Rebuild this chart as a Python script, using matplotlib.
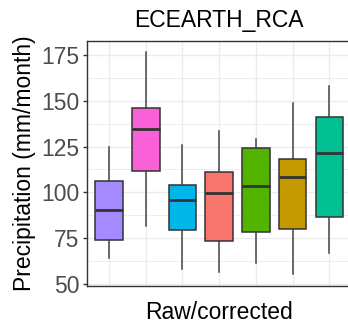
import matplotlib
matplotlib.use("Agg")
import matplotlib.pyplot as plt
import numpy as np

plt.rcParams["font.family"] = ["Liberation Sans", "DejaVu Sans"]

# Box summaries per raw/corrected series (mm/month)
colors = ["#A58AFF", "#FB61D7", "#00B6EB", "#F8766D", "#53B400", "#C49A00", "#00C094"]
whis_lo = [64.0, 81.5, 58.2, 56.4, 61.3, 55.1, 66.9]
q1 = [73.8, 111.5, 79.5, 73.3, 78.4, 79.8, 86.6]
med = [90.2, 134.8, 95.9, 99.7, 103.5, 108.6, 121.3]
q3 = [106.0, 145.9, 103.9, 111.0, 124.2, 118.1, 141.0]
whis_hi = [124.6, 176.8, 125.7, 133.5, 129.1, 149.0, 158.1]
y_ticks = [50, 75, 100, 125, 150, 175]

stats = [dict(whislo=a, q1=b, med=c, q3=d, whishi=e, fliers=[])
         for a, b, c, d, e in zip(whis_lo, q1, med, q3, whis_hi)]
pos = np.arange(1, len(stats) + 1)

fig = plt.figure(figsize=(3.48, 3.27), dpi=100)
ax = fig.add_axes([0.25, 0.1254, 0.7595, 0.7483])

edge = "#333333"
bp = ax.bxp(stats, positions=pos, widths=0.75, patch_artist=True, showcaps=False,
            boxprops=dict(edgecolor=edge, linewidth=1.1),
            whiskerprops=dict(color="#444444", linewidth=1.1),
            medianprops=dict(color=edge, linewidth=2.0),
            zorder=3)
for patch, c in zip(bp["boxes"], colors):
    patch.set_facecolor(c)

ax.set_xlim(0.4, len(stats) + 0.6)
ax.set_ylim(48.8, 182.6)
ax.set_yticks(y_ticks)
ax.set_yticks([62.5, 87.5, 112.5, 137.5, 162.5], minor=True)
ax.set_xticks(pos)
ax.set_xticklabels([])
ax.tick_params(axis="x", length=0)
ax.tick_params(axis="y", which="major", length=3, width=1, color="#333333",
               labelsize=16.5, labelcolor="#4D4D4D", pad=2.5)
ax.tick_params(axis="y", which="minor", length=0)

ax.grid(True, which="major", color="#EBEBEB", linewidth=1.0, zorder=0)
ax.grid(True, which="minor", axis="y", color="#EBEBEB", linewidth=0.6, zorder=0)
ax.set_axisbelow(True)
for s in ax.spines.values():
    s.set_color("#333333")
    s.set_linewidth(1.0)

ax.set_title("ECEARTH_RCA", fontsize=16.5, pad=10)
ax.set_ylabel("Precipitation (mm/month)", fontsize=16.5, labelpad=4)
ax.set_xlabel("Raw/corrected", fontsize=16.5, labelpad=7)

fig.savefig("out.png", dpi=100)
